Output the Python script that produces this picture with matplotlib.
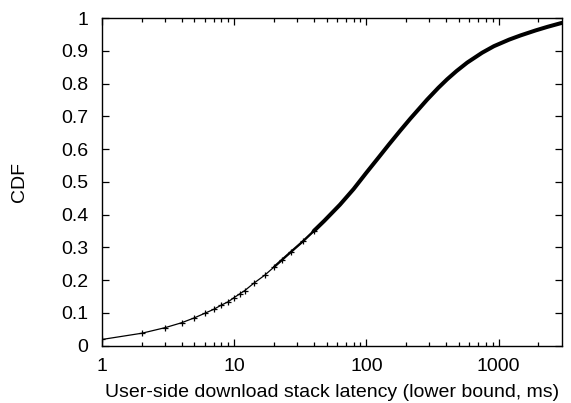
import matplotlib
matplotlib.use("Agg")
import matplotlib.pyplot as plt
from matplotlib.ticker import FixedLocator, NullFormatter

# values
latency_ms = [1, 2, 3, 4, 5, 6, 7, 8, 9, 10, 11, 12, 14, 17, 20, 23, 27, 33,
              40, 48, 63, 80, 100, 124, 148, 180, 215, 288, 350, 408, 480, 579,
              750, 921, 1200, 1468, 1900, 2339, 3000]
cdf = [0.019, 0.038, 0.055, 0.070, 0.085, 0.099, 0.111, 0.124, 0.134, 0.147,
       0.158, 0.168, 0.190, 0.215, 0.240, 0.262, 0.287, 0.318, 0.350, 0.381,
       0.430, 0.478, 0.528, 0.575, 0.614, 0.656, 0.693, 0.751, 0.787, 0.813,
       0.838, 0.864, 0.894, 0.914, 0.934, 0.947, 0.962, 0.973, 0.985]

x_ticks = [1, 10, 100, 1000]
x_ticklabels = ["1", "10", "100", "1000"]
y_ticks = [0, 0.1, 0.2, 0.3, 0.4, 0.5, 0.6, 0.7, 0.8, 0.9, 1]
y_ticklabels = ["0", "0.1", "0.2", "0.3", "0.4", "0.5", "0.6", "0.7", "0.8", "0.9", "1"]

plt.rcParams["font.family"] = ["Liberation Sans", "DejaVu Sans"]
plt.rcParams["font.size"] = 14

fig = plt.figure(figsize=(5.71, 4.03), dpi=100)
ax = fig.add_axes([0.1786, 0.1422, 0.9837 - 0.1786, 0.9553 - 0.1422])

# sparse part: thin line with '+' markers, dense part: marks merge into a thick band
n_thin = 19
ax.plot(latency_ms[:n_thin], cdf[:n_thin], color="black", lw=0.9,
        marker="+", markersize=5, markeredgewidth=0.9)
ax.plot(latency_ms[14:n_thin + 1], cdf[14:n_thin + 1], color="black", lw=1.7,
        solid_capstyle="round")
ax.plot(latency_ms[n_thin - 1:], cdf[n_thin - 1:], color="black", lw=2.9,
        solid_capstyle="round", solid_joinstyle="round")

ax.set_xscale("log")
ax.set_xlim(1, 3000)
ax.set_ylim(0, 1)

ax.xaxis.set_major_locator(FixedLocator(x_ticks))
ax.set_xticklabels(x_ticklabels)
minor = [m * d for d in [1, 10, 100, 1000] for m in range(2, 10) if m * d < 3000]
ax.xaxis.set_minor_locator(FixedLocator(minor))
ax.xaxis.set_minor_formatter(NullFormatter())
ax.set_yticks(y_ticks)
ax.set_yticklabels(y_ticklabels)

ax.tick_params(which="both", direction="in", top=True, right=True, width=0.9)
ax.tick_params(which="major", length=5)
ax.tick_params(which="minor", length=3)
ax.tick_params(axis="x", pad=9)
ax.tick_params(axis="y", pad=10)
for s in ax.spines.values():
    s.set_linewidth(1.0)

ax.set_xlabel("User-side download stack latency (lower bound, ms)", labelpad=6)
ax.set_ylabel("CDF", labelpad=24)

fig.savefig("out.png", dpi=100)
